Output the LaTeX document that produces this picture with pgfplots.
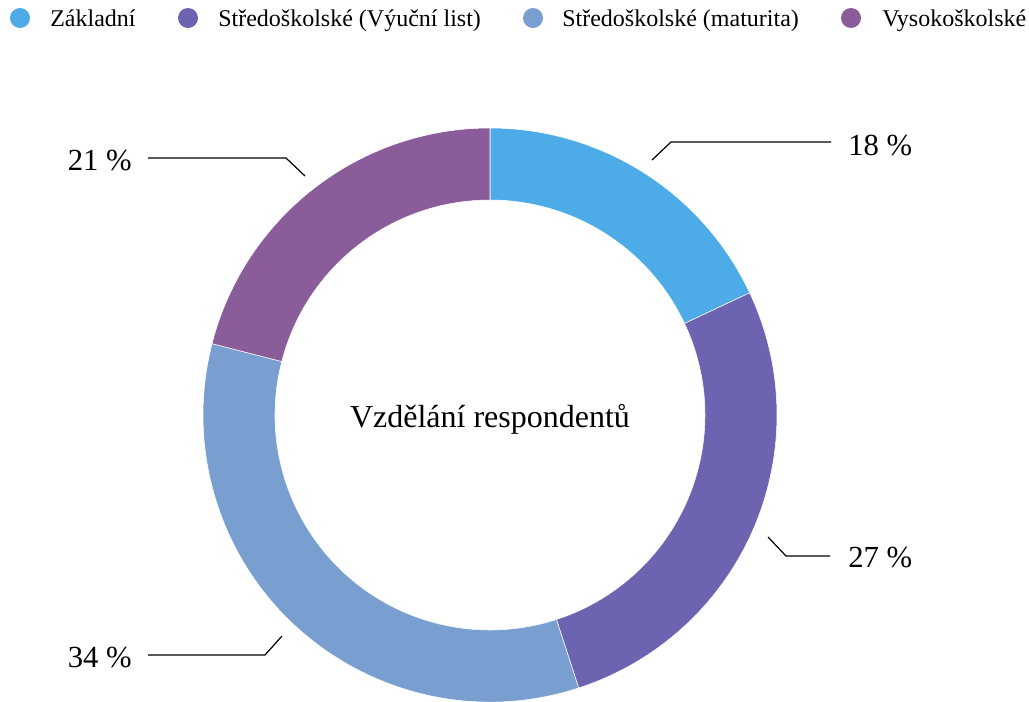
\documentclass[border=0pt]{standalone}
\usepackage{pgfplots}
\usepackage{pgfplotstable}
\pgfplotsset{compat=1.18}
\usepackage{fontspec}
\setmainfont{Liberation Serif}

\definecolor{cA}{HTML}{4DABE8}
\definecolor{cB}{HTML}{6C63B1}
\definecolor{cC}{HTML}{789FD0}
\definecolor{cD}{HTML}{8B5C9A}

% share of respondents by education, clockwise from the top
\pgfplotstableread{
pct col
18 cA
27 cB
34 cC
21 cD
}\edudata

\begin{document}
\begin{tikzpicture}[
    lbl/.style={inner sep=0, font=\fontsize{23}{28}\selectfont},
    leg/.style={anchor=base west, inner sep=0, font=\fontsize{18}{22}\selectfont},
]
\clip (0,0) rectangle (771.75pt,525.75pt);
\begin{axis}[
    x=0.75pt, y=0.75pt,
    xmin=0, xmax=1029, ymin=0, ymax=701,
    y dir=reverse,
    hide axis,
    clip=false,
]
% donut segments
\def\cum{0}
\pgfplotsforeachungrouped \i in {0,...,3}{
    \pgfplotstablegetelem{\i}{pct}\of\edudata \let\p=\pgfplotsretval
    \pgfplotstablegetelem{\i}{col}\of\edudata \let\c=\pgfplotsretval
    \pgfmathsetmacro\a{90-3.6*\cum}
    \pgfmathsetmacro\b{90-3.6*(\cum+\p)}
    \pgfmathsetmacro\cum{\cum+\p}
    \edef\temp{\noexpand\fill[\c, draw=white, line width=0.4pt]
        (axis cs:490,415) ++(\a:215.25pt)
        arc[start angle=\a, end angle=\b, radius=215.25pt]
        -- ++(\b:-54pt)
        arc[start angle=\b, end angle=\a, radius=161.25pt] -- cycle;}
    \temp
}

% leader lines
\draw[line width=0.9pt] (axis cs:652,160) -- (axis cs:671,142) -- (axis cs:831,142);
\draw[line width=0.9pt] (axis cs:768,537) -- (axis cs:786,556) -- (axis cs:830,556);
\draw[line width=0.9pt] (axis cs:282,636) -- (axis cs:265,655) -- (axis cs:148,655);
\draw[line width=0.9pt] (axis cs:305,176) -- (axis cs:286,158) -- (axis cs:148,158);

% value labels
\node[lbl, anchor=base west] at (axis cs:848,155) {18~\%};
\node[lbl, anchor=base west] at (axis cs:848,567) {27~\%};
\node[lbl, anchor=base east] at (axis cs:132,667) {34~\%};
\node[lbl, anchor=base east] at (axis cs:132,170) {21~\%};

% centre title
\node[anchor=base, inner sep=0, font=\fontsize{24}{29}\selectfont] at (axis cs:490,427) {Vzdělání respondentů};

% legend
\fill[cA] (axis cs:20,18) circle[radius=7.5pt];
\fill[cB] (axis cs:188,18) circle[radius=7.5pt];
\fill[cC] (axis cs:533,18) circle[radius=7.5pt];
\fill[cD] (axis cs:851,18) circle[radius=7.5pt];
\node[leg] at (axis cs:50,26) {Základní};
\node[leg] at (axis cs:218,26) {Středoškolské (Výuční list)};
\node[leg] at (axis cs:562,26) {Středoškolské (maturita)};
\node[leg] at (axis cs:882,26) {Vysokoškolské};
\end{axis}
\end{tikzpicture}
\end{document}
